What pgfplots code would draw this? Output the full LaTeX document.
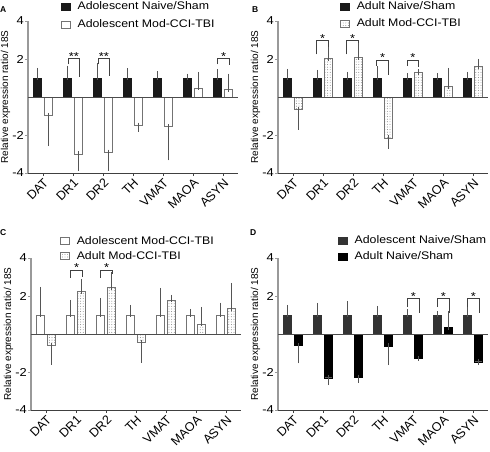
\documentclass[border=0pt]{standalone}
\usepackage{pgfplots}
\pgfplotsset{compat=1.18}
\usepackage{fontspec}
\setmainfont{Liberation Sans}
\newfontfamily\stretchfont[FakeStretch=1.12]{Liberation Sans}
\usetikzlibrary{patterns.meta}
\definecolor{barblack}{HTML}{1A1A1A}
\definecolor{bargray}{HTML}{333333}
\definecolor{errcol}{HTML}{555555}
\definecolor{brcol}{HTML}{404040}
\tikzset{
 zline/.style={black!70, line width=0.8pt},
 brk/.style={brcol, line width=0.6pt},
 star/.style={anchor=base, font=\stretchfont\fontsize{11.5}{12}\selectfont, inner sep=0pt, yshift=-1.8pt},
 plabel/.style={anchor=north west, inner sep=0pt, font=\bfseries\fontsize{8.5}{10}\selectfont},
}
\pgfplotsset{
 panel/.style={
  scale only axis, width=210pt, height=152pt,
  xmin=-0.5, xmax=6.5, ymin=-4, ymax=4,
  axis x line*=bottom, axis y line*=left,
  x axis line style={line width=0.8pt, color=black!75},
  y axis line style={line width=1.4pt, color=black!40},
  xtick={0,...,6}, xticklabels={DAT,DR1,DR2,TH,VMAT,MAOA,ASYN},
  ytick={-4,-2,2,4}, yticklabels={-4,-2,2,4},
  tick align=outside, major tick length=3pt,
  xtick style={black!75, line width=0.6pt},
  ytick style={black!40, line width=0.8pt},
  x tick label style={rotate=45, anchor=north east, font=\fontsize{12.5}{13}\selectfont, inner sep=1pt},
  y tick label style={font=\stretchfont\fontsize{11.5}{12}\selectfont, inner sep=1pt},
  ylabel={Relative expression ratio/ 18S},
  ylabel style={font=\fontsize{11}{12}\selectfont},
  every axis y label/.style={at={(ticklabel cs:0.5)}, rotate=90, anchor=south, inner sep=0pt, yshift=1pt},
  ybar, bar width=0.26,
  clip=false,
  legend cell align=left,
  legend style={draw=none, fill=none, anchor=north west, font=\stretchfont\fontsize{11}{12}\selectfont,
     inner sep=0pt, column sep=7pt,
     nodes={inner sep=0pt, text height=8pt, text depth=2pt}},
  legend image code/.code={\draw[#1] (0pt,-3.5pt) rectangle (9pt,3.5pt);},
  error bars/y dir=both, error bars/y explicit,
  error bars/error bar style={line width=0.6pt, errcol},
  error bars/error mark options={line width=0.6pt, errcol, mark size=2.4pt},
 },
 sblack/.style={fill=barblack, draw=barblack, bar shift=-0.185},
 sgray/.style={fill=bargray, draw=bargray, bar shift=-0.185},
 swhite/.style={fill=white, draw=black!55, line width=0.6pt},
 sdot/.style={fill=white, draw=black!55, line width=0.6pt,
   postaction={pattern={Dots[distance=2.6pt, radius=0.45pt]}, pattern color=black!55}},
}
\begin{document}
\begin{tikzpicture}
\useasboundingbox (0pt,0pt) rectangle (490pt,452pt);
% Panel letters
\node[plabel] at (0pt,446pt) {A};
\node[plabel] at (252pt,446pt) {B};
\node[plabel] at (0pt,223pt) {C};
\node[plabel] at (250pt,223pt) {D};

% ---------- A ----------
\begin{axis}[panel, at={(28pt,279pt)}, anchor=south west,
  legend style={at={(0.156,1.1316)}, row sep=8.7pt}]
\addplot+[sblack] coordinates {
 (0,1) += (0,0.41) -= (0,0)
 (1,1) += (0,0.52) -= (0,0)
 (2,1) += (0,0.64) -= (0,0)
 (3,1) += (0,0.38) -= (0,0)
 (4,1) += (0,0.22) -= (0,0)
 (5,1) += (0,0.10) -= (0,0)
 (6,1) += (0,0.33) -= (0,0)};
\addlegendentry{Adolescent Naive/Sham}
\addplot+[swhite, bar shift=0.185] coordinates {
 (0,-0.96) += (0,0) -= (0,1.50)
 (1,-2.99) += (0,0) -= (0,0.77)
 (2,-2.90) += (0,0) -= (0,0.86)
 (3,-1.47) += (0,0) -= (0,0.24)
 (4,-1.55) += (0,0) -= (0,1.66)
 (5,0.47) += (0,0.73) -= (0,0)
 (6,0.38) += (0,0.72) -= (0,0)};
\addlegendentry{Adolescent Mod-CCI-TBI}
\draw[zline] (axis cs:-0.5,0) -- (axis cs:6.5,0);
\draw[brk] (axis cs:0.84,1.72) |- (axis cs:1.22,2.04) -- (axis cs:1.22,1.05);
\node[star] at (axis cs:1.03,2.04) {**};
\draw[brk] (axis cs:1.84,1.72) |- (axis cs:2.22,2.04) -- (axis cs:2.22,1.08);
\node[star] at (axis cs:2.03,2.04) {**};
\draw[brk] (axis cs:5.81,1.72) |- (axis cs:6.22,2.04) -- (axis cs:6.22,1.70);
\node[star] at (axis cs:6.02,2.04) {*};
\end{axis}

% ---------- B ----------
\begin{axis}[panel, at={(278pt,279pt)}, anchor=south west,
  legend style={at={(0.295,1.1316)}, row sep=7.3pt}]
\addplot+[sblack] coordinates {
 (0,1) += (0,0.35) -= (0,0)
 (1,1) += (0,0.30) -= (0,0)
 (2,1) += (0,0.20) -= (0,0)
 (3,1) += (0,0.50) -= (0,0)
 (4,1) += (0,0.13) -= (0,0)
 (5,1) += (0,0.13) -= (0,0)
 (6,1) += (0,0.20) -= (0,0)};
\addlegendentry{Adult Naive/Sham}
\addplot+[sdot, bar shift=0.185] coordinates {
 (0,-0.67) += (0,0) -= (0,0.93)
 (1,2.04) += (0,0.50) -= (0,0)
 (2,2.10) += (0,0.60) -= (0,0)
 (3,-2.15) += (0,0) -= (0,0.45)
 (4,1.28) += (0,0.07) -= (0,0)
 (5,0.55) += (0,0.86) -= (0,0)
 (6,1.60) += (0,0.28) -= (0,0)};
\addlegendentry{Adult Mod-CCI-TBI}
\draw[zline] (axis cs:-0.5,0) -- (axis cs:6.5,0);
\draw[brk] (axis cs:0.79,2.24) |- (axis cs:1.18,2.96) -- (axis cs:1.18,2.64);
\node[star] at (axis cs:0.985,2.96) {*};
\draw[brk] (axis cs:1.79,2.24) |- (axis cs:2.18,2.96) -- (axis cs:2.18,2.85);
\node[star] at (axis cs:1.985,2.96) {*};
\draw[brk] (axis cs:2.79,1.62) |- (axis cs:3.18,1.94) -- (axis cs:3.18,1.15);
\node[star] at (axis cs:2.985,1.94) {*};
\draw[brk] (axis cs:3.81,1.62) |- (axis cs:4.18,1.94) -- (axis cs:4.18,1.58);
\node[star] at (axis cs:3.995,1.94) {*};
\end{axis}

% ---------- C ----------
\begin{axis}[panel, at={(31pt,42pt)}, anchor=south west,
  legend style={at={(0.138,1.1447)}, row sep=5pt}]
\addplot+[swhite, bar shift=-0.185] coordinates {
 (0,1) += (0,1.35) -= (0,0)
 (1,1) += (0,0.67) -= (0,0)
 (2,1) += (0,0.78) -= (0,0)
 (3,1) += (0,0.41) -= (0,0)
 (4,1) += (0,1.30) -= (0,0)
 (5,1) += (0,0.20) -= (0,0)
 (6,1) += (0,0.53) -= (0,0)};
\addlegendentry{Adolescent Mod-CCI-TBI}
\addplot+[sdot, bar shift=0.185] coordinates {
 (0,-0.58) += (0,0) -= (0,0.91)
 (1,2.25) += (0,0.53) -= (0,0)
 (2,2.46) += (0,0.67) -= (0,0)
 (3,-0.44) += (0,0) -= (0,0.95)
 (4,1.79) += (0,0.14) -= (0,0)
 (5,0.53) += (0,0.77) -= (0,0)
 (6,1.34) += (0,1.23) -= (0,0)};
\addlegendentry{Adult Mod-CCI-TBI}
\draw[zline] (axis cs:-0.5,0) -- (axis cs:6.5,0);
\draw[brk] (axis cs:0.82,2.97) |- (axis cs:1.22,3.37) -- (axis cs:1.22,3.0);
\node[star] at (axis cs:1.02,3.37) {*};
\draw[brk] (axis cs:1.82,2.97) |- (axis cs:2.22,3.37) -- (axis cs:2.22,3.15);
\node[star] at (axis cs:2.02,3.37) {*};
\end{axis}

% ---------- D ----------
\begin{axis}[panel, at={(278pt,42pt)}, anchor=south west,
  legend style={at={(0.286,1.1513)}, row sep=6pt}]
\addplot+[sgray] coordinates {
 (0,1) += (0,0.41) -= (0,0)
 (1,1) += (0,0.51) -= (0,0)
 (2,1) += (0,0.60) -= (0,0)
 (3,1) += (0,0.35) -= (0,0)
 (4,1) += (0,0.20) -= (0,0)
 (5,1) += (0,0.07) -= (0,0)
 (6,1) += (0,0.30) -= (0,0)};
\addlegendentry{Adolescent Naive/Sham}
\addplot+[fill=black, draw=black, bar shift=0.185] coordinates {
 (0,-0.60) += (0,0) -= (0,0.82)
 (1,-2.30) += (0,0) -= (0,0.27)
 (2,-2.27) += (0,0) -= (0,0.16)
 (3,-0.62) += (0,0) -= (0,0.89)
 (4,-1.27) += (0,0) -= (0,0.02)
 (5,0.35) += (0,0.72) -= (0,0)
 (6,-1.46) += (0,0) -= (0,0.05)};
\addlegendentry{Adult Naive/Sham}
\draw[zline] (axis cs:-0.5,0) -- (axis cs:6.5,0);
\draw[brk] (axis cs:3.82,1.42) |- (axis cs:4.2,1.86) -- (axis cs:4.2,1.09);
\node[star] at (axis cs:4.01,1.86) {*};
\draw[brk] (axis cs:4.82,1.42) |- (axis cs:5.2,1.86) -- (axis cs:5.2,1.09);
\node[star] at (axis cs:5.01,1.86) {*};
\draw[brk] (axis cs:5.82,1.42) |- (axis cs:6.2,1.86) -- (axis cs:6.2,1.09);
\node[star] at (axis cs:6.01,1.86) {*};
\end{axis}
\end{tikzpicture}
\end{document}
